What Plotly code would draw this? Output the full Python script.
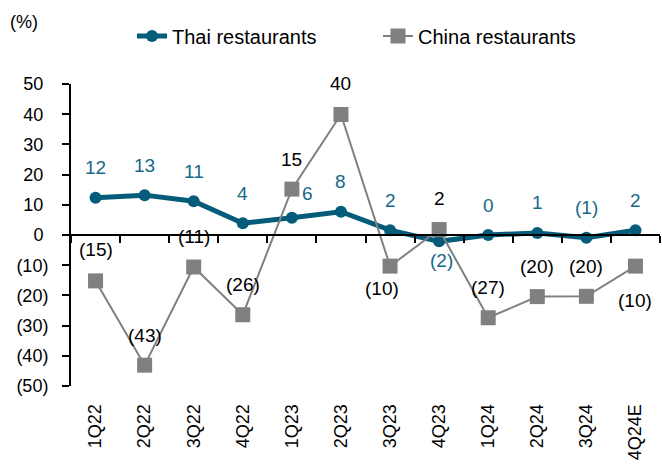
import plotly.graph_objects as go

categories = ["1Q22", "2Q22", "3Q22", "4Q22", "1Q23", "2Q23", "3Q23", "4Q23",
              "1Q24", "2Q24", "3Q24", "4Q24E"]
thai = [12.3, 13.2, 11.2, 3.9, 5.7, 7.7, 1.6, -2.1, 0.0, 0.7, -0.9, 1.6]
china = [-15.2, -43.1, -10.6, -26.4, 15.2, 39.9, -10.3, 1.8, -27.4, -20.4, -20.3, -10.3]
y_ticks = [50, 40, 30, 20, 10, 0, -10, -20, -30, -40, -50]

# label offsets (px) relative to points
thai_shift = [30, 30, 30, 30, 24, 30, 30, -19, 30, 30, 30, 30]
thai_xshift = [0, 0, 0, 0, 16, 0, 0, 2, 0, 0, 0, 0]
china_shift = [31, 30, 31, 30, 30, 31, -22, 31, 30, 30, 30, -34]
china_xshift = [0, 0, 0, 0, 0, 0, -8, 0, 0, 0, 0, 0]

THAI_C = "#045B7A"
THAI_T = "#17698A"
CHINA_C = "#808080"
FONT = "Liberation Sans, Arial, sans-serif"

W, H = 662, 466
ML, MR, MT, MB = 71, 2, 84, 80
PW, PH = W - ML - MR, H - MT - MB


def px_x(p):
    return (p - ML) / PW


def px_y(p):
    return (H - MB - p) / PH


def fmt(v):
    r = int(round(v))
    return f"({abs(r)})" if r < 0 else f"{r}"


def tickfmt(v):
    return f"({abs(v)})" if v < 0 else f"{v}\u00a0"


fig = go.Figure()
fig.add_trace(go.Scatter(
    x=categories, y=thai, name="Thai restaurants", mode="lines+markers",
    line=dict(color=THAI_C, width=5), marker=dict(color=THAI_C, size=12, symbol="circle"),
))
fig.add_trace(go.Scatter(
    x=categories, y=china, name="China restaurants", mode="lines+markers",
    line=dict(color=CHINA_C, width=2), marker=dict(color=CHINA_C, size=15, symbol="square"),
))

annotations = []
for c, v, s, xs in zip(categories, thai, thai_shift, thai_xshift):
    annotations.append(dict(x=c, y=v, xref="x", yref="y", text=fmt(v), showarrow=False,
                            yshift=s, xshift=xs, font=dict(family=FONT, size=19, color=THAI_T)))
for c, v, s, xs in zip(categories, china, china_shift, china_xshift):
    annotations.append(dict(x=c, y=v, xref="x", yref="y", text=fmt(v), showarrow=False,
                            yshift=s, xshift=xs, font=dict(family=FONT, size=19, color="#000000")))
annotations.append(dict(x=px_x(8), y=px_y(22), xref="paper", yref="paper",
                        xanchor="left", yanchor="middle", text="(%)", showarrow=False,
                        font=dict(family=FONT, size=18, color="#000000")))

fig.update_layout(
    width=W, height=H,
    margin=dict(l=ML, r=MR, t=MT, b=MB, autoexpand=False),
    paper_bgcolor="white", plot_bgcolor="white",
    font=dict(family=FONT, size=18, color="#000000"),
    showlegend=True,
    legend=dict(orientation="h", x=px_x(132), xanchor="left",
                y=px_y(36), yanchor="middle",
                font=dict(family=FONT, size=20, color="#000000"),
                entrywidth=201, bgcolor="rgba(0,0,0,0)", tracegroupgap=0),
    annotations=annotations,
    xaxis=dict(type="category", categoryarray=categories, range=[-0.5, 11.5],
               anchor="free", position=0.5, showline=True, linecolor="#000000", linewidth=2,
               ticks="outside", tickson="boundaries", ticklen=7, tickwidth=2, tickcolor="#000000",
               showticklabels=False, showgrid=False, zeroline=False, automargin=False),
    xaxis2=dict(overlaying="x", anchor="y", side="bottom", range=[-0.5, 11.5],
                tickmode="array", tickvals=list(range(len(categories))), ticktext=categories,
                tickangle=-90, ticks="outside", ticklen=10, tickcolor="rgba(0,0,0,0)",
                showline=False, showgrid=False, zeroline=False, automargin=False,
                tickfont=dict(family=FONT, size=18, color="#000000")),
    yaxis=dict(range=[-50, 50], tickmode="array", tickvals=y_ticks,
               ticktext=[tickfmt(v) for v in y_ticks], automargin=False,
               showline=True, linecolor="#000000", linewidth=2, ticks="outside", ticklen=7,
               tickwidth=2, tickcolor="#000000", showgrid=False, zeroline=False,
               ticklabelstandoff=10, tickfont=dict(family=FONT, size=18, color="#000000")),
)
# dummy invisible trace to activate xaxis2
fig.add_trace(go.Scatter(x=[0], y=[None], xaxis="x2", yaxis="y", showlegend=False,
                         hoverinfo="skip", mode="markers", marker=dict(opacity=0)))

fig.write_html("out.html", config={"displayModeBar": False},
               post_script="document.body.style.margin='0px';")
